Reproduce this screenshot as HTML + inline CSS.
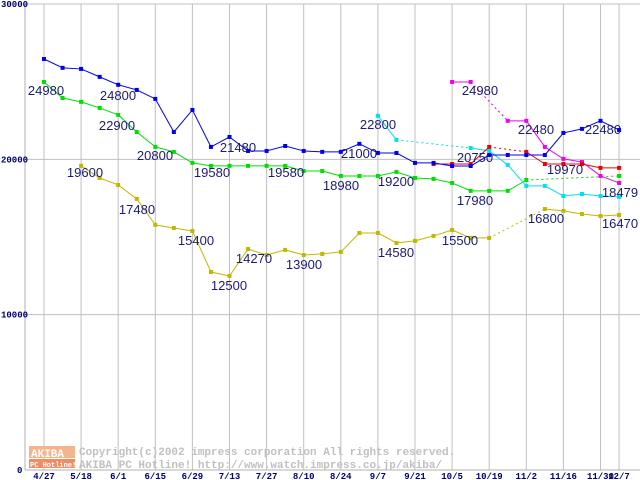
<!DOCTYPE html>
<html><head><meta charset="utf-8"><style>
html,body{margin:0;padding:0;background:#fff;}
svg{display:block;}
.lbl{font-family:"Liberation Sans",sans-serif;font-size:13px;fill:#1a1a7a;}
.ax{font-family:"Liberation Mono",monospace;font-size:9px;font-weight:bold;fill:#00007a;}
.wm{font-family:"Liberation Mono",monospace;font-size:11px;font-weight:bold;fill:#c0c0c0;}
</style></head><body>
<svg id="chart" width="640" height="480" xmlns="http://www.w3.org/2000/svg"></svg>
<script>
const dates=["4/27","5/18","6/1","6/15","6/29","7/13","7/27","8/10","8/24","9/7","9/21","10/5","10/19","11/2","11/16","11/30","12/7"];
const dateIdx=[0,2,4,6,8,10,12,14,16,18,20,22,24,26,28,30,31];
const yTicks=[0,10000,20000,30000];
const blue=[26460,25890,25820,25310,24800,24470,23890,21760,23180,20800,21440,20540,20540,20860,20540,20480,20480,21000,20410,20410,19770,19770,19570,19570,20280,20280,20280,20280,21700,21960,22480,21890];
const green=[24980,23950,23700,23310,22860,21760,20800,20480,19770,19580,19580,19580,19580,19580,19250,19250,18930,18930,18930,19190,18800,18740,18480,17970,17970,17970,18670,null,null,null,null,18930];
const yellow=[null,null,19580,18800,18350,17450,15780,15580,15390,12750,12490,14230,13840,14170,13840,13910,14040,15260,15260,14620,14750,15070,15450,14940,14940,null,null,16800,16680,16480,16350,16420];
const cyan=[null,null,null,null,null,null,null,null,null,null,null,null,null,null,null,null,null,null,22800,21250,null,null,null,20730,20540,19640,18290,18290,17640,17770,17640,17580];
const red=[null,null,null,null,null,null,null,null,null,null,null,null,null,null,null,null,null,null,null,null,null,19700,19700,19700,20800,null,20480,19700,19700,19700,19450,19450];
const magenta=[null,null,null,null,null,null,null,null,null,null,null,null,null,null,null,null,null,null,null,null,null,null,24980,24980,null,22480,22480,20800,20030,19830,18930,18480];
const labelText=["24980","24800","22900","20800","21480","19580","19580","19600","17480","15400","12500","14270","13900","18980","21000","22800","19200","14580","15500","24980","20750","17980","22480","19970","16800","22480","18479","16470"];
const labelX=[46,118,117,155,238,212,286,85,137,196,229,254,304,341,359,378,396,396,460,480,475,475,536,565,546,603,620,620];
const labelY=[95,100,130,160,152,177,177,177,214,245,290,263,269,190,158,129,186,257,245,95,162,205,134,174,223,134,197,228];

const svg=document.getElementById('chart');
const NS="http://www.w3.org/2000/svg";
const x0=44, dx=18.55;
const X=i=>x0+i*dx;
const Y=v=>470-v*0.015533;
function mk(tag,attrs,parent){const e=document.createElementNS(NS,tag);for(const k in attrs)e.setAttribute(k,attrs[k]);(parent||svg).appendChild(e);return e;}

const grid=mk('g',{});


dateIdx.forEach(i=>{mk('line',{x1:X(i),x2:X(i),y1:4,y2:470,stroke:'#c0c0c0','stroke-width':1},grid);});
yTicks.forEach(v=>{if(v>0)mk('line',{x1:25,x2:640,y1:Y(v),y2:Y(v),stroke:'#c0c0c0','stroke-width':1},grid);});
mk('line',{x1:25,x2:25,y1:4,y2:470,stroke:'#b0b0b0'},grid);
mk('line',{x1:25,x2:640,y1:470,y2:470,stroke:'#b0b0b0'},grid);

const wm=mk('g',{});


mk('rect',{x:29,y:446,width:46,height:12,fill:'#f4b48c'},wm);
mk('rect',{x:29,y:459,width:46,height:9,fill:'#f08c64'},wm);
let t=mk('text',{x:31,y:457,class:'wm'},wm);t.textContent='AKIBA';t.setAttribute('style','fill:#fff');
t=mk('text',{x:30,y:467,class:'wm'},wm);t.textContent='PC Hotline!';t.setAttribute('style','fill:#fff;font-size:7px');
t=mk('text',{x:79,y:455,class:'wm'},wm);t.textContent='Copyright(c)2002 impress corporation All rights reserved.';
t=mk('text',{x:79,y:468,class:'wm'},wm);t.textContent='AKIBA PC Hotline!  http://www.watch.impress.co.jp/akiba/';

yTicks.forEach(v=>{const e=mk('text',{x:v===0?17:1,y:Y(v)+3,class:'ax'});e.textContent=String(v);

});
dates.forEach((d,k)=>{const e=mk('text',{x:X(dateIdx[k]),y:479,class:'ax','text-anchor':'middle'});e.textContent=d;

});

function series(data,color,name){
  const g=mk('g',{});
  
  
  let prev=-1;
  for(let i=0;i<data.length;i++){
    if(data[i]==null)continue;
    if(prev>=0){
      const dotted=(i-prev)>1;
      mk('line',{x1:X(prev),y1:Y(data[prev]),x2:X(i),y2:Y(data[i]),stroke:color,'stroke-width':1,'stroke-dasharray':dotted?'2,3':'none'},g);
    }
    prev=i;
  }
  data.forEach((v,i)=>{if(v==null)return;const r=mk('rect',{x:X(i)-2,y:Y(v)-2,width:4,height:4,fill:color},g);
    
    });
}
series(yellow,'#c0b800','series-yellow');
series(green,'#00e000','series-green');
series(cyan,'#00e0f0','series-cyan');
series(magenta,'#f000f0','series-magenta');
series(red,'#f00000','series-red');
series(blue,'#0000f0','series-blue');

labelText.forEach((s,k)=>{const e=mk('text',{x:labelX[k],y:labelY[k],class:'lbl','text-anchor':'middle'});e.textContent=s;

});
</script>
</body></html>
